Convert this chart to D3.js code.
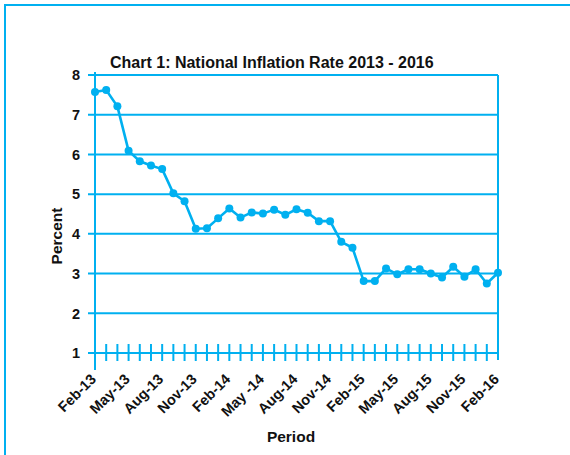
<!DOCTYPE html>
<html>
<head>
<meta charset="utf-8">
<script src="https://cdn.jsdelivr.net/npm/d3@7"></script>
<style>
  body { margin: 0; background: #fff; }
  text { font-family: "Liberation Sans", Arial, sans-serif; font-weight: bold; fill: #111; }
</style>
</head>
<body>
<div id="chart"></div>
<script>
// monthly periods, Feb-13 .. Feb-16
const periods = [
  "Feb-13", "Mar-13", "Apr-13", "May-13", "Jun-13", "Jul-13", "Aug-13", "Sep-13", "Oct-13", "Nov-13", "Dec-13", "Jan-14",
  "Feb-14", "Mar-14", "Apr-14", "May -14", "Jun-14", "Jul-14", "Aug-14", "Sep-14", "Oct-14", "Nov-14", "Dec-14", "Jan-15",
  "Feb-15", "Mar-15", "Apr-15", "May-15", "Jun-15", "Jul-15", "Aug-15", "Sep-15", "Oct-15", "Nov-15", "Dec-15", "Jan-16",
  "Feb-16"
];
const inflation = [
  7.57, 7.62, 7.21, 6.09, 5.83, 5.72, 5.63, 5.02, 4.82, 4.13, 4.14, 4.39,
  4.64, 4.41, 4.54, 4.51, 4.61, 4.48, 4.62, 4.53, 4.32, 4.32, 3.80, 3.65,
  2.81, 2.81, 3.13, 2.98, 3.11, 3.11, 3.00, 2.90, 3.17, 2.92, 3.11, 2.75,
  3.02
];
const shownLabels = ["Feb-13", "May-13", "Aug-13", "Nov-13", "Feb-14", "May -14", "Aug-14",
  "Nov-14", "Feb-15", "May-15", "Aug-15", "Nov-15", "Feb-16"];
const yTicks = [1, 2, 3, 4, 5, 6, 7, 8];

const blue = "#00b0f0";
const width = 570, height = 455;

const svg = d3.select("#chart").append("svg")
  .attr("width", width)
  .attr("height", height);

// outer frame (only left and top show in the picture)
svg.append("rect")
  .attr("x", 5).attr("y", 5)
  .attr("width", 600).attr("height", 500)
  .attr("fill", "none")
  .attr("stroke", blue)
  .attr("stroke-width", 2);

const x = d3.scalePoint()
  .domain(periods)
  .range([95, 498]);

const y = d3.scaleLinear()
  .domain([1, 8])
  .range([353, 75]);

// horizontal gridlines + y ticks
svg.append("g")
  .selectAll("line")
  .data(yTicks)
  .join("line")
  .attr("x1", 88)
  .attr("x2", x.range()[1])
  .attr("y1", d => y(d))
  .attr("y2", d => y(d))
  .attr("stroke", blue)
  .attr("stroke-width", 2);

// y labels
svg.append("g")
  .selectAll("text")
  .data(yTicks)
  .join("text")
  .attr("x", 80)
  .attr("y", d => y(d))
  .attr("dy", "0.36em")
  .attr("text-anchor", "end")
  .style("font-size", "14.5px")
  .text(d => d);

// left axis and right edge
svg.append("line")
  .attr("x1", 95).attr("x2", 95)
  .attr("y1", 72).attr("y2", 370)
  .attr("stroke", blue).attr("stroke-width", 2);

svg.append("line")
  .attr("x1", 498).attr("x2", 498)
  .attr("y1", 75).attr("y2", 360)
  .attr("stroke", blue).attr("stroke-width", 2);

// month ticks on the x axis
svg.append("g")
  .selectAll("line")
  .data(periods.slice(1, -1))
  .join("line")
  .attr("x1", d => x(d))
  .attr("x2", d => x(d))
  .attr("y1", 344)
  .attr("y2", 361)
  .attr("stroke", blue)
  .attr("stroke-width", 2);

// x labels, rotated
svg.append("g")
  .selectAll("text")
  .data(shownLabels)
  .join("text")
  .attr("text-anchor", "end")
  .attr("transform", d => `translate(${x(d) + 2},${380}) rotate(-45)`)
  .style("font-size", "14.5px")
  .text(d => d);

// the series
const line = d3.line()
  .x((d, i) => x(periods[i]))
  .y(d => y(d));

svg.append("path")
  .datum(inflation)
  .attr("d", line)
  .attr("fill", "none")
  .attr("stroke", blue)
  .attr("stroke-width", 2.6)
  .attr("stroke-linejoin", "round");

svg.append("g")
  .selectAll("circle")
  .data(inflation)
  .join("circle")
  .attr("cx", (d, i) => x(periods[i]))
  .attr("cy", d => y(d))
  .attr("r", 4)
  .attr("fill", blue);

// title and axis titles
svg.append("text")
  .attr("x", 110)
  .attr("y", 68)
  .style("font-size", "16px")
  .text("Chart 1: National Inflation Rate 2013 - 2016");

svg.append("text")
  .attr("x", 291)
  .attr("y", 442)
  .attr("text-anchor", "middle")
  .style("font-size", "15.5px")
  .text("Period");

svg.append("text")
  .attr("transform", "translate(62,236) rotate(-90)")
  .attr("text-anchor", "middle")
  .style("font-size", "15.5px")
  .text("Percent");
</script>
</body>
</html>
